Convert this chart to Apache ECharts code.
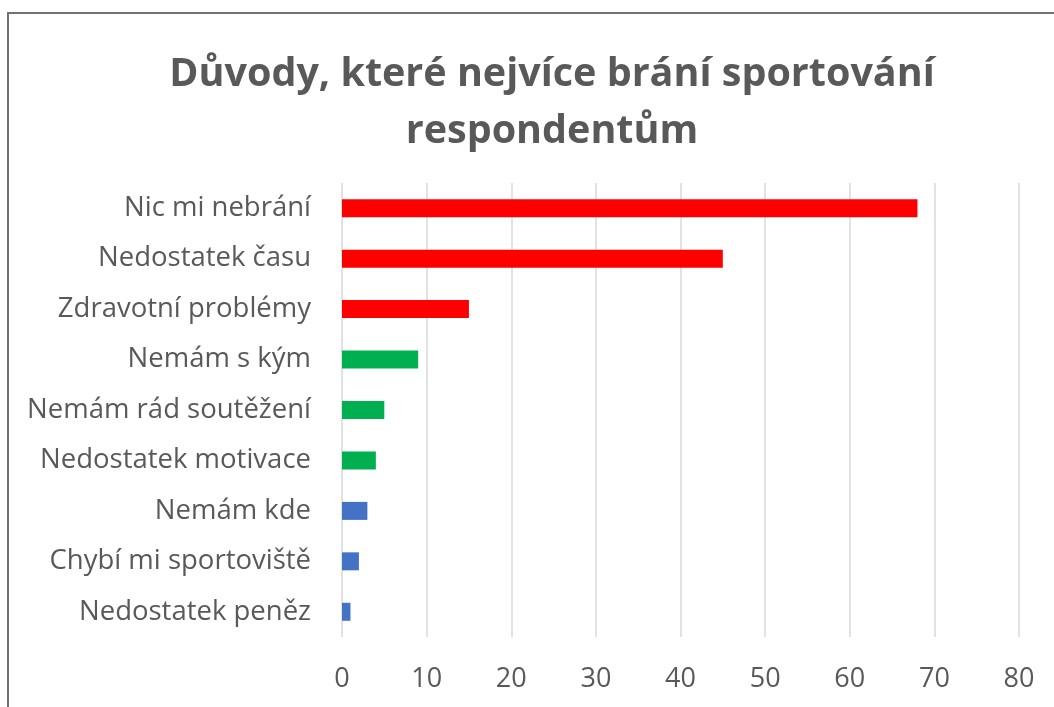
<!DOCTYPE html>
<html>
<head>
<meta charset="utf-8">
<script src="https://cdn.jsdelivr.net/npm/echarts@6/dist/echarts.min.js"></script>
<style>
  html, body { margin: 0; padding: 0; background: #fff; }
  #frame {
    position: absolute; left: 7px; top: 12px; width: 1100px; height: 760px;
    border-top: 2px solid #767171; border-left: 2px solid #767171;
  }
  #chart { position: absolute; left: 0; top: 0; width: 1054px; height: 707px; }
</style>
</head>
<body>
<div id="frame"></div>
<div id="chart"></div>
<script>
const categories = [
  'Nic mi nebrání',
  'Nedostatek času',
  'Zdravotní problémy',
  'Nemám s kým',
  'Nemám rád soutěžení',
  'Nedostatek motivace',
  'Nemám kde',
  'Chybí mi sportoviště',
  'Nedostatek peněz',
]
const values = [68, 45, 15, 9, 5, 4, 3, 2, 1]
const groups = ['a', 'a', 'a', 'b', 'b', 'b', 'c', 'c', 'c']
const xTicks = [0, 10, 20, 30, 40, 50, 60, 70, 80]

const groupColors = { a: '#ff0000', b: '#00b050', c: '#4472c4' }
const textColor = '#595959'
const font = 'Open Sans'

const chart = echarts.init(document.getElementById('chart'))
chart.setOption({
  animation: false,
  title: {
    text: 'Důvody, které nejvíce brání sportování\nrespondentům',
    left: 547,
    top: 41,
    textAlign: 'center',
    textStyle: {
      color: textColor,
      fontFamily: font,
      fontWeight: 'bold',
      fontSize: 39.5,
      lineHeight: 57,
    },
  },
  grid: {
    left: 342,
    right: 35,
    top: 183,
    bottom: 70,
    containLabel: false,
  },
  xAxis: {
    type: 'value',
    min: xTicks[0],
    max: xTicks[xTicks.length - 1],
    interval: 10,
    axisLine: { show: false },
    axisTick: { show: false },
    splitLine: { lineStyle: { color: '#d9d9d9', width: 1.5 } },
    axisLabel: {
      color: textColor,
      fontFamily: font,
      fontSize: 27,
      margin: 29,
    },
  },
  yAxis: {
    type: 'category',
    inverse: true,
    data: categories,
    axisLine: { show: false },
    axisTick: { show: false },
    axisLabel: {
      color: textColor,
      fontFamily: font,
      fontSize: 27.5,
      margin: 31,
    },
  },
  series: [
    {
      type: 'bar',
      barWidth: 18,
      data: values.map((v, i) => ({
        value: v,
        itemStyle: { color: groupColors[groups[i]] },
      })),
    },
  ],
})
</script>
</body>
</html>
